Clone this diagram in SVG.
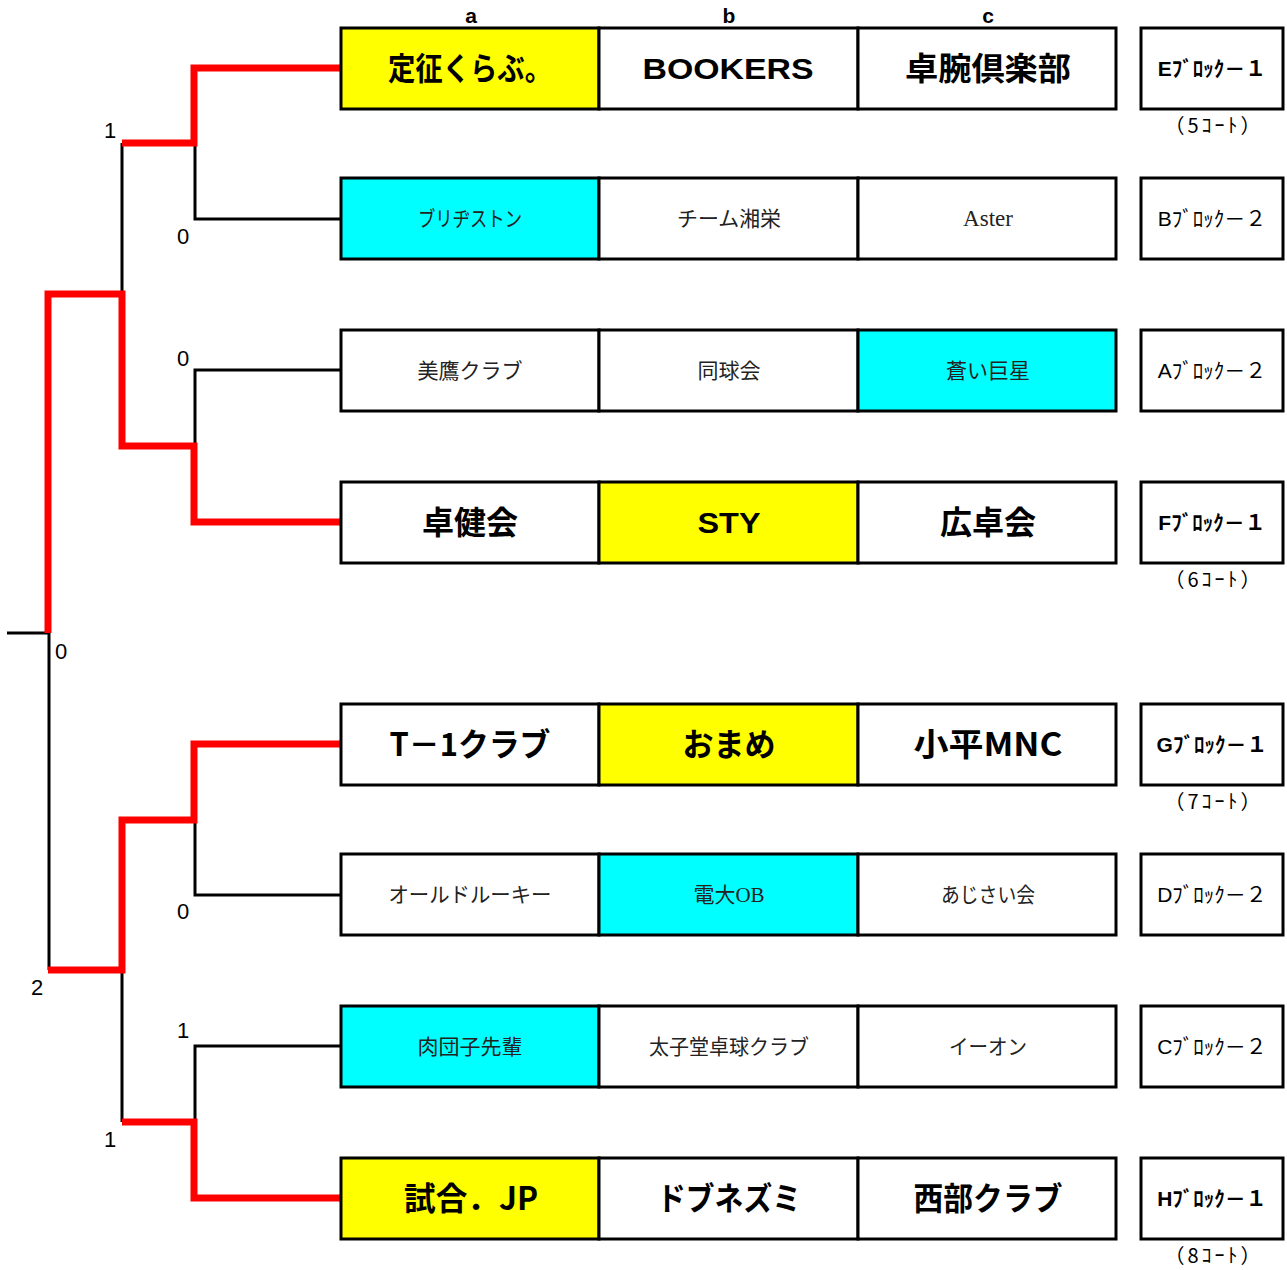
<svg xmlns="http://www.w3.org/2000/svg" width="1287" height="1270" viewBox="0 0 1287 1270">
<style>
.cell{stroke:#000;stroke-width:3;fill:#fff}
.y{fill:#ffff00}.c{fill:#00ffff}
.big{font-family:"Noto Sans CJK JP","Liberation Sans",sans-serif;font-weight:bold;font-size:32px;text-anchor:middle;fill:#000}
.lat{font-family:"Liberation Sans","Noto Sans CJK JP",sans-serif;font-weight:bold;font-size:29px;text-anchor:middle;fill:#000}
.sm{font-family:"Liberation Serif","Noto Sans CJK JP",serif;font-size:21px;text-anchor:middle;fill:#222}
.blk{font-family:"Liberation Sans","Noto Sans CJK JP",sans-serif;font-size:21px;text-anchor:middle;fill:#000}
.bb{font-weight:bold}
.ct{font-family:"Noto Sans CJK JP","Liberation Sans",sans-serif;font-size:20px;text-anchor:middle;fill:#000;letter-spacing:3px}
.sc{font-family:"Liberation Sans",sans-serif;font-size:22px;fill:#000;text-anchor:middle}
.hd{font-family:"Liberation Sans",sans-serif;font-size:21px;font-weight:bold;text-anchor:middle}
.r{stroke:#ff0000;stroke-width:7;fill:none;stroke-linejoin:miter}
.k{stroke:#000;stroke-width:3;fill:none}
</style>
<g id="headers">
<text class="hd" x="471" y="23">a</text>
<text class="hd" x="729" y="23">b</text>
<text class="hd" x="988" y="23">c</text>
</g>
<g id="connectors">
<path class="k" d="M7,633 H49 V970"/>
<path class="k" d="M122,143 V294"/>
<path class="k" d="M341,219 H195 V143"/>
<path class="k" d="M341,370 H195 V446"/>
<path class="k" d="M341,895 H195 V820"/>
<path class="k" d="M122,970 V1122"/>
<path class="k" d="M341,1046 H195 V1122"/>
<path class="r" d="M341,68 H194 V143 H122"/>
<path class="r" d="M48,633 V294 H122 V446 H194 V522 H341"/>
<path class="r" d="M48,970 H122 V820 H194 V744 H341"/>
<path class="r" d="M122,1122 H194 V1198 H341"/>
</g>
<g id="scores">
<text class="sc" x="110" y="138">1</text>
<text class="sc" x="183" y="244">0</text>
<text class="sc" x="183" y="366">0</text>
<text class="sc" x="61" y="659">0</text>
<text class="sc" x="183" y="919">0</text>
<text class="sc" x="37" y="995">2</text>
<text class="sc" x="183" y="1038">1</text>
<text class="sc" x="110" y="1147">1</text>
</g>
<g id="row1">
<rect class="cell y" x="341" y="28" width="258" height="81"/>
<rect class="cell" x="599" y="28" width="259" height="81"/>
<rect class="cell" x="858" y="28" width="258" height="81"/>
<text class="big" x="470" y="80" textLength="164" lengthAdjust="spacingAndGlyphs">定征くらぶ。</text>
<text class="lat" x="728" y="79" textLength="171" lengthAdjust="spacingAndGlyphs">BOOKERS</text>
<text class="big" x="988" y="80" textLength="166" lengthAdjust="spacingAndGlyphs">卓腕倶楽部</text>
</g>
<g id="row2">
<rect class="cell c" x="341" y="178" width="258" height="81"/>
<rect class="cell" x="599" y="178" width="259" height="81"/>
<rect class="cell" x="858" y="178" width="258" height="81"/>
<text class="sm" x="470" y="226" textLength="104" lengthAdjust="spacingAndGlyphs">ブリヂストン</text>
<text class="sm" x="729" y="226" textLength="104" lengthAdjust="spacingAndGlyphs">チーム湘栄</text>
<text class="sm" x="988" y="226" style="font-size:23px">Aster</text>
</g>
<g id="row3">
<rect class="cell" x="341" y="330" width="258" height="81"/>
<rect class="cell" x="599" y="330" width="259" height="81"/>
<rect class="cell c" x="858" y="330" width="258" height="81"/>
<text class="sm" x="470" y="378">美鷹クラブ</text>
<text class="sm" x="729" y="378">同球会</text>
<text class="sm" x="988" y="378">蒼い巨星</text>
</g>
<g id="row4">
<rect class="cell" x="341" y="482" width="258" height="81"/>
<rect class="cell y" x="599" y="482" width="259" height="81"/>
<rect class="cell" x="858" y="482" width="258" height="81"/>
<text class="big" x="470" y="534">卓健会</text>
<text class="lat" x="729" y="533" textLength="63" lengthAdjust="spacingAndGlyphs">STY</text>
<text class="big" x="988" y="534">広卓会</text>
</g>
<g id="row5">
<rect class="cell" x="341" y="704" width="258" height="81"/>
<rect class="cell y" x="599" y="704" width="259" height="81"/>
<rect class="cell" x="858" y="704" width="258" height="81"/>
<text class="big" x="470" y="756" textLength="161" lengthAdjust="spacingAndGlyphs">T－1クラブ</text>
<text class="big" x="729" y="756" textLength="93" lengthAdjust="spacingAndGlyphs">おまめ</text>
<text class="big" x="988" y="756" textLength="149" lengthAdjust="spacingAndGlyphs">小平MNC</text>
</g>
<g id="row6">
<rect class="cell" x="341" y="854" width="258" height="81"/>
<rect class="cell c" x="599" y="854" width="259" height="81"/>
<rect class="cell" x="858" y="854" width="258" height="81"/>
<text class="sm" x="470" y="902" textLength="163" lengthAdjust="spacingAndGlyphs">オールドルーキー</text>
<text class="sm" x="729" y="902">電大OB</text>
<text class="sm" x="988" y="902" textLength="94" lengthAdjust="spacingAndGlyphs">あじさい会</text>
</g>
<g id="row7">
<rect class="cell c" x="341" y="1006" width="258" height="81"/>
<rect class="cell" x="599" y="1006" width="259" height="81"/>
<rect class="cell" x="858" y="1006" width="258" height="81"/>
<text class="sm" x="470" y="1054">肉団子先輩</text>
<text class="sm" x="729" y="1054" textLength="160" lengthAdjust="spacingAndGlyphs">太子堂卓球クラブ</text>
<text class="sm" x="988" y="1054" textLength="78" lengthAdjust="spacingAndGlyphs">イーオン</text>
</g>
<g id="row8">
<rect class="cell y" x="341" y="1158" width="258" height="81"/>
<rect class="cell" x="599" y="1158" width="259" height="81"/>
<rect class="cell" x="858" y="1158" width="258" height="81"/>
<text class="big" x="471" y="1210" textLength="134" lengthAdjust="spacingAndGlyphs">試合．JP</text>
<text class="big" x="729" y="1210" textLength="144" lengthAdjust="spacingAndGlyphs">ドブネズミ</text>
<text class="big" x="988" y="1210" textLength="149" lengthAdjust="spacingAndGlyphs">西部クラブ</text>
</g>
<g id="blocks">
<rect class="cell" x="1141" y="28" width="142" height="81"/>
<text class="blk bb" x="1212" y="76">Eﾌﾞﾛｯｸ－１</text>
<text class="ct" x="1214" y="133">（5ｺｰﾄ）</text>
<rect class="cell" x="1141" y="178" width="142" height="81"/>
<text class="blk" x="1212" y="226">Bﾌﾞﾛｯｸ－２</text>
<rect class="cell" x="1141" y="330" width="142" height="81"/>
<text class="blk" x="1212" y="378">Aﾌﾞﾛｯｸ－２</text>
<rect class="cell" x="1141" y="482" width="142" height="81"/>
<text class="blk bb" x="1212" y="530">Fﾌﾞﾛｯｸ－１</text>
<text class="ct" x="1214" y="587">（6ｺｰﾄ）</text>
<rect class="cell" x="1141" y="704" width="142" height="81"/>
<text class="blk bb" x="1212" y="752">Gﾌﾞﾛｯｸ－１</text>
<text class="ct" x="1214" y="809">（7ｺｰﾄ）</text>
<rect class="cell" x="1141" y="854" width="142" height="81"/>
<text class="blk" x="1212" y="902">Dﾌﾞﾛｯｸ－２</text>
<rect class="cell" x="1141" y="1006" width="142" height="81"/>
<text class="blk" x="1212" y="1054">Cﾌﾞﾛｯｸ－２</text>
<rect class="cell" x="1141" y="1158" width="142" height="81"/>
<text class="blk bb" x="1212" y="1206">Hﾌﾞﾛｯｸ－１</text>
<text class="ct" x="1214" y="1263">（8ｺｰﾄ）</text>
</g>
</svg>
